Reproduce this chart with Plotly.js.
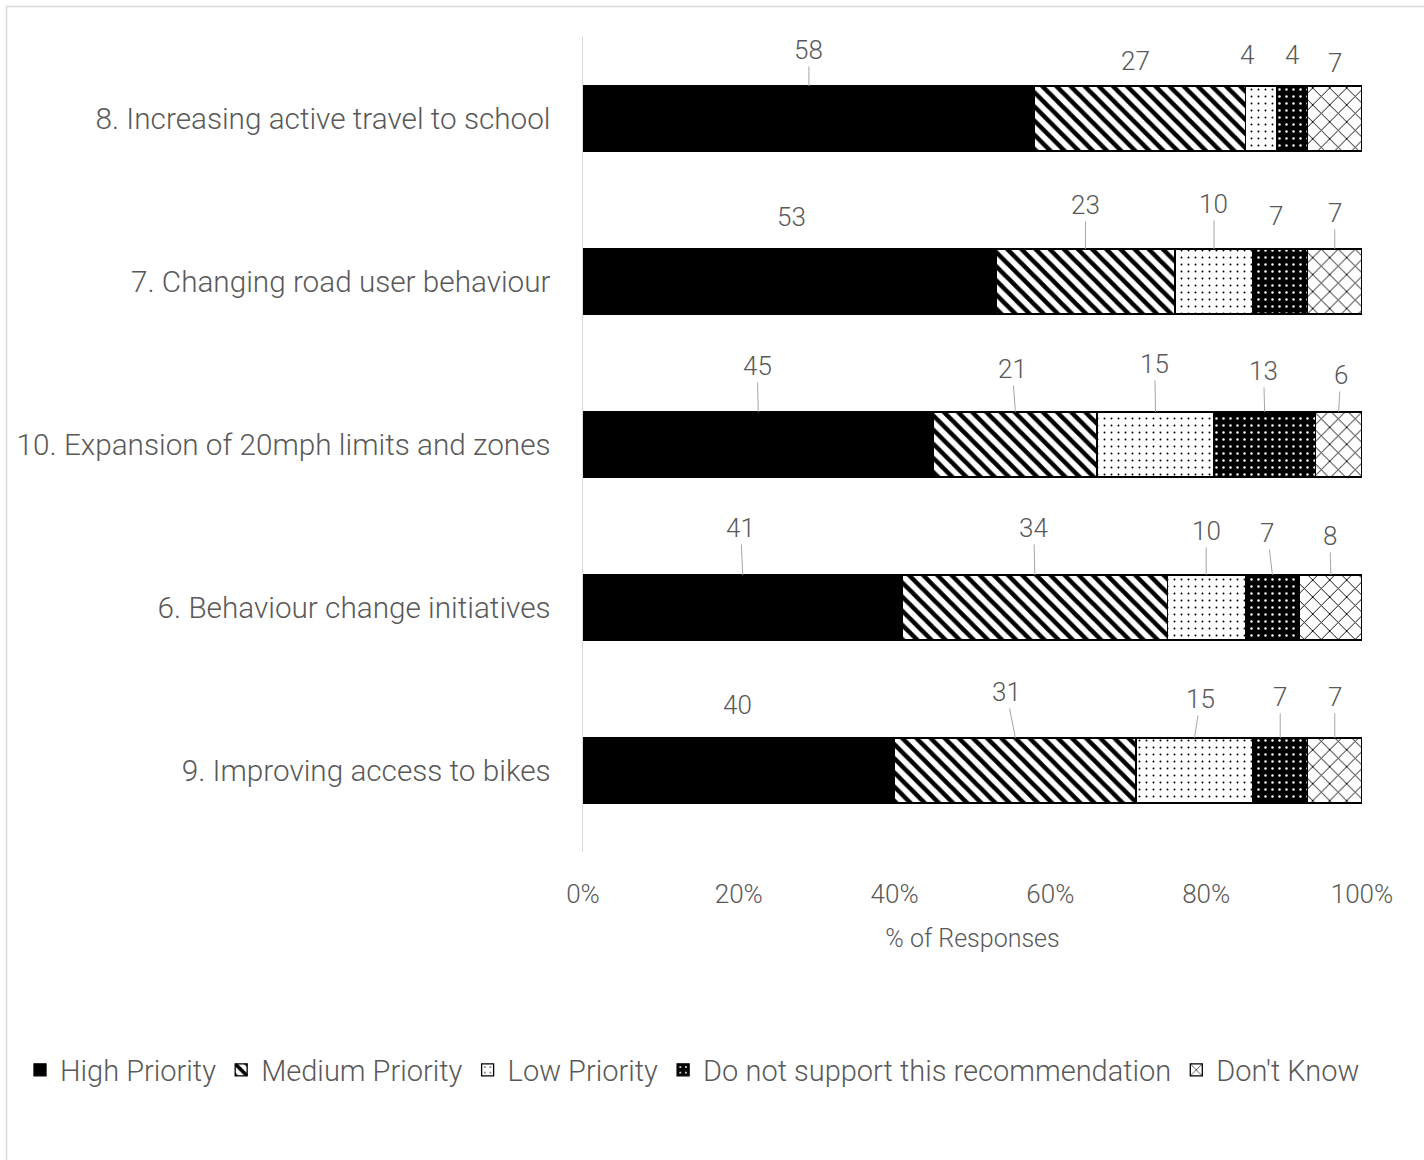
<!DOCTYPE html>
<html>
<head>
<meta charset="utf-8">
<script src="https://cdn.plot.ly/plotly-3.0.1.min.js"></script>
<style>
  html, body { margin: 0; padding: 0; background: #fff; }
  #chart { width: 1424px; height: 1160px; }
</style>
</head>
<body>
<div id="chart"></div>
<script>
// ---- Data (top-to-bottom order as shown) ----
const categories = [
  "8. Increasing active travel to school",
  "7. Changing road user behaviour",
  "10. Expansion of 20mph limits and zones",
  "6. Behaviour change initiatives",
  "9. Improving access to bikes"
];
const seriesNames = ["High Priority", "Medium Priority", "Low Priority",
                     "Do not support this recommendation", "Don't Know"];
const highPriority   = [58, 53, 45, 41, 40];
const mediumPriority = [27, 23, 21, 34, 31];
const lowPriority    = [4, 10, 15, 10, 15];
const doNotSupport   = [4, 7, 13, 7, 7];
const dontKnow       = [7, 7, 6, 8, 7];
const xTickValues = [0, 20, 40, 60, 80, 100];

// ---- Label placement (pixel offsets from the top-centre of each segment) ----
// [dx, dy, drawLeaderLine]
const labelOffsets = [
  [[0,-36,1],[-4,-25,0],[-14,-31,0],[0,-31,0],[0,-23,0]],
  [[2,-32,0],[0,-44,1],[0,-45,1],[-4,-33,0],[0,-36,1]],
  [[-1,-46,1],[-3,-43,1],[-1,-48,1],[-1,-41,1],[2,-37,1]],
  [[-2,-47,1],[-1,-47,1],[0,-44,1],[-5,-42,1],[-1,-39,1]],
  [[-1,-33,0],[-9,-46,1],[6,-39,1],[0,-41,1],[0,-41,1]]
];

const allSeries = [highPriority, mediumPriority, lowPriority, doNotSupport, dontKnow];

const fontFam = "Roboto, 'Open Sans', sans-serif";
const textColor = "#595959";
const barWidth = 0.4;

const patterns = [
  { shape: "" },
  { shape: "\\", bgcolor: "white", fgcolor: "black", size: 10, solidity: 0.45, fillmode: "replace" },
  { shape: ".", bgcolor: "white", fgcolor: "black", size: 7, solidity: 0.06, fillmode: "replace" },
  { shape: ".", bgcolor: "black", fgcolor: "white", size: 7, solidity: 0.1, fillmode: "replace" },
  { shape: "x", bgcolor: "white", fgcolor: "black", size: 12, solidity: 0.15, fillmode: "replace" }
];

const traces = allSeries.map((vals, i) => ({
  type: "bar",
  orientation: "h",
  name: seriesNames[i],
  x: vals,
  y: categories,
  width: barWidth,
  marker: {
    color: i === 0 ? "black" : "white",
    line: { color: "black", width: 1.3 },
    pattern: patterns[i]
  },
  hoverinfo: "x+name"
}));

// data labels
const annotations = [];
categories.forEach((cat, r) => {
  let cum = 0;
  allSeries.forEach((vals, s) => {
    const v = vals[r];
    const centre = cum + v / 2;
    cum += v;
    const off = labelOffsets[r][s];
    annotations.push({
      xref: "x", yref: "y",
      x: centre, y: r - barWidth / 2,
      text: String(v),
      showarrow: true,
      arrowhead: 0,
      arrowwidth: 1,
      arrowcolor: off[2] ? "#a6a6a6" : "rgba(0,0,0,0)",
      standoff: 0,
      ax: off[0], ay: off[1],
      font: { family: fontFam, size: 26, color: textColor, weight: 300 }
    });
  });
});

const layout = {
  width: 1424,
  height: 1160,
  margin: { l: 583, r: 62, t: 37, b: 308 },
  paper_bgcolor: "white",
  plot_bgcolor: "white",
  barmode: "stack",
  bargap: 0.6,
  showlegend: true,
  xaxis: {
    range: [0, 100],
    tickvals: xTickValues,
    ticktext: xTickValues.map(v => v + "%"),
    showgrid: false,
    zeroline: false,
    showline: false,
    ticks: "",
    ticklabelstandoff: 24,
    tickfont: { family: fontFam, size: 26, color: textColor, weight: 300 },
    title: { text: "% of Responses", font: { family: fontFam, size: 25, color: textColor, weight: 300 }, standoff: 21 },
    fixedrange: true
  },
  yaxis: {
    type: "category",
    autorange: false,
    range: [4.5, -0.5],
    showgrid: false,
    zeroline: false,
    showline: true,
    linecolor: "#d9d9d9",
    linewidth: 1.5,
    ticks: "",
    ticklabelstandoff: 25,
    tickfont: { family: fontFam, size: 29.7, color: textColor, weight: 300 },
    fixedrange: true
  },
  legend: {
    orientation: "h",
    xref: "paper", yref: "paper",
    x: -0.7227, xanchor: "left",
    y: -0.2675, yanchor: "middle",
    traceorder: "normal",
    font: { family: fontFam, size: 29, color: textColor, weight: 300 },
    itemwidth: 30
  },
  annotations: annotations,
  shapes: [{
    type: "rect", xref: "paper", yref: "paper",
    x0: -0.74, x1: 1.2, y0: -0.45, y1: 1.0374,
    line: { color: "#d9d9d9", width: 1.5 },
    fillcolor: "rgba(0,0,0,0)",
    layer: "below"
  }]
};

Plotly.newPlot("chart", traces, layout, { displayModeBar: false, staticPlot: true });
</script>
</body>
</html>
